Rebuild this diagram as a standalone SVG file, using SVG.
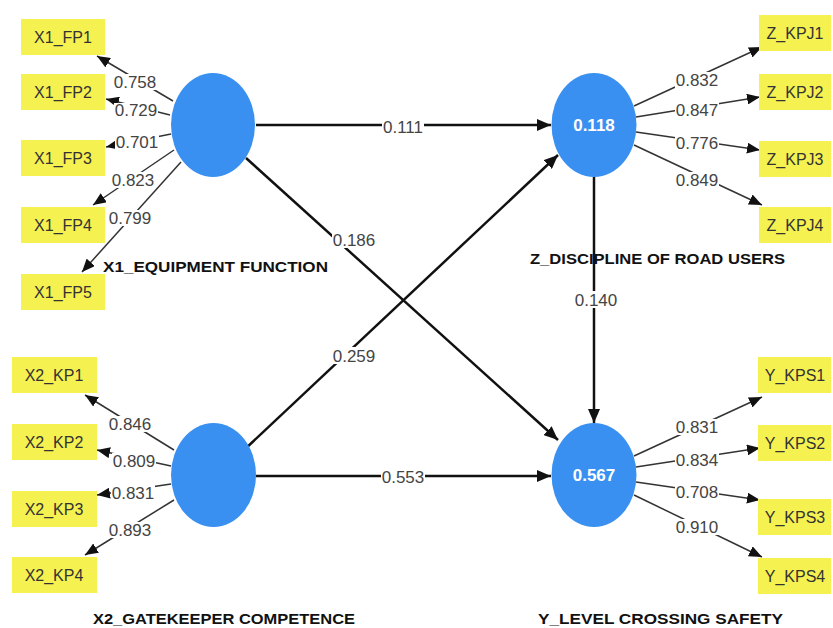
<svg xmlns="http://www.w3.org/2000/svg" width="833" height="628" viewBox="0 0 833 628">
<style>
.box{fill:#f5f150}
.bt{font-family:"Liberation Sans",Arial,sans-serif;font-size:16px;fill:#333;text-anchor:middle}
.lv{fill:#3990f0}
.r2{font-family:"Liberation Sans",Arial,sans-serif;font-size:17px;font-weight:bold;fill:#fff;text-anchor:middle}
.cl{font-family:"Liberation Sans",Arial,sans-serif;font-size:15px;font-weight:bold;fill:#111}
.ld{stroke:#333;stroke-width:1.5;fill:none;marker-end:url(#as)}
.pt{stroke:#111;stroke-width:2.5;fill:none;marker-end:url(#al)}
.bg{fill:#fff}
.lb{font-family:"Liberation Sans",Arial,sans-serif;font-size:17px;fill:#444;text-anchor:middle}
</style>
<defs>
<marker id="al" markerUnits="userSpaceOnUse" markerWidth="14" markerHeight="12" refX="14" refY="6" orient="auto"><path d="M0,0 L14,6 L0,12 z" fill="#111"/></marker>
<marker id="as" markerUnits="userSpaceOnUse" markerWidth="13" markerHeight="11" refX="13" refY="5.5" orient="auto"><path d="M0,0 L13,5.5 L0,11 z" fill="#111"/></marker>
</defs>
<rect width="833" height="628" fill="#fff"/>
<g id="connectors">
<path class="pt" d="M256,125 L551,125"/>
<path class="pt" d="M246,158 L558,440"/>
<path class="pt" d="M244,450 L558,155"/>
<path class="pt" d="M256,476 L551,476"/>
<path class="pt" d="M594,177 L594,423"/>
<path class="ld" d="M173,101 L97,56"/>
<path class="ld" d="M170,115 L106,99"/>
<path class="ld" d="M171,134 L106,147"/>
<path class="ld" d="M174,150 L93,205"/>
<path class="ld" d="M181,162 L82,272"/>
<path class="ld" d="M174,450 L85,395"/>
<path class="ld" d="M171,466 L97,450"/>
<path class="ld" d="M171,484 L97,495"/>
<path class="ld" d="M174,500 L85,555"/>
<path class="ld" d="M634,106 L762,47"/>
<path class="ld" d="M636,117 L760,97"/>
<path class="ld" d="M636,132 L760,150"/>
<path class="ld" d="M634,145 L762,205"/>
<path class="ld" d="M634,456 L762,397"/>
<path class="ld" d="M636,467 L760,448"/>
<path class="ld" d="M636,482 L760,500"/>
<path class="ld" d="M634,495 L762,557"/>
<rect class="bg" x="382" y="118" width="42" height="17"/><text class="lb" x="403" y="133">0.111</text>
<rect class="bg" x="332" y="231" width="44" height="17"/><text class="lb" x="354" y="246">0.186</text>
<rect class="bg" x="332" y="347" width="44" height="17"/><text class="lb" x="354" y="362">0.259</text>
<rect class="bg" x="381" y="468" width="44" height="17"/><text class="lb" x="403" y="483">0.553</text>
<rect class="bg" x="574" y="291" width="44" height="17"/><text class="lb" x="596" y="306">0.140</text>
<rect class="bg" x="113" y="74" width="44" height="16"/><text class="lb" x="135" y="88">0.758</text>
<rect class="bg" x="114" y="103" width="44" height="15"/><text class="lb" x="136" y="116">0.729</text>
<rect class="bg" x="115" y="135" width="44" height="15"/><text class="lb" x="137" y="148">0.701</text>
<rect class="bg" x="111" y="172" width="44" height="16"/><text class="lb" x="133" y="186">0.823</text>
<rect class="bg" x="108" y="210" width="44" height="16"/><text class="lb" x="130" y="224">0.799</text>
<rect class="bg" x="108" y="416" width="44" height="16"/><text class="lb" x="130" y="430">0.846</text>
<rect class="bg" x="112" y="453" width="44" height="16"/><text class="lb" x="134" y="467">0.809</text>
<rect class="bg" x="111" y="485" width="44" height="16"/><text class="lb" x="133" y="499">0.831</text>
<rect class="bg" x="108" y="522" width="44" height="16"/><text class="lb" x="130" y="536">0.893</text>
<rect class="bg" x="675" y="72" width="44" height="16"/><text class="lb" x="697" y="86">0.832</text>
<rect class="bg" x="675" y="102" width="44" height="16"/><text class="lb" x="697" y="116">0.847</text>
<rect class="bg" x="675" y="135" width="44" height="16"/><text class="lb" x="697" y="149">0.776</text>
<rect class="bg" x="675" y="172" width="44" height="16"/><text class="lb" x="697" y="186">0.849</text>
<rect class="bg" x="675" y="419" width="44" height="16"/><text class="lb" x="697" y="433">0.831</text>
<rect class="bg" x="675" y="452" width="44" height="16"/><text class="lb" x="697" y="466">0.834</text>
<rect class="bg" x="675" y="484" width="44" height="16"/><text class="lb" x="697" y="498">0.708</text>
<rect class="bg" x="675" y="519" width="44" height="16"/><text class="lb" x="697" y="533">0.910</text>
</g>
<g id="X1">
<ellipse class="lv" cx="213" cy="125" rx="42" ry="52"/>
<text class="cl" x="103" y="272" textLength="225" lengthAdjust="spacingAndGlyphs">X1_EQUIPMENT FUNCTION</text>
</g>
<g id="X2">
<ellipse class="lv" cx="213.5" cy="475" rx="42.5" ry="52"/>
<text class="cl" x="93" y="624" textLength="262" lengthAdjust="spacingAndGlyphs">X2_GATEKEEPER COMPETENCE</text>
</g>
<g id="Z">
<ellipse class="lv" cx="594" cy="125" rx="42.5" ry="52"/>
<text class="r2" x="594" y="131">0.118</text>
<text class="cl" x="530" y="264" textLength="255" lengthAdjust="spacingAndGlyphs">Z_DISCIPLINE OF ROAD USERS</text>
</g>
<g id="Y">
<ellipse class="lv" cx="594" cy="475" rx="42.5" ry="52"/>
<text class="r2" x="594" y="481">0.567</text>
<text class="cl" x="538" y="624" textLength="245" lengthAdjust="spacingAndGlyphs">Y_LEVEL CROSSING SAFETY</text>
</g>
<g id="X1_FP1"><rect class="box" x="21" y="19" width="84" height="36"/><text class="bt" x="63" y="43">X1_FP1</text></g>
<g id="X1_FP2"><rect class="box" x="21" y="74" width="84" height="36"/><text class="bt" x="63" y="98">X1_FP2</text></g>
<g id="X1_FP3"><rect class="box" x="21" y="140" width="84" height="36"/><text class="bt" x="63" y="164">X1_FP3</text></g>
<g id="X1_FP4"><rect class="box" x="21" y="207" width="84" height="36"/><text class="bt" x="63" y="231">X1_FP4</text></g>
<g id="X1_FP5"><rect class="box" x="21" y="274" width="84" height="36"/><text class="bt" x="63" y="298">X1_FP5</text></g>
<g id="X2_KP1"><rect class="box" x="12" y="357" width="85" height="36"/><text class="bt" x="54" y="381">X2_KP1</text></g>
<g id="X2_KP2"><rect class="box" x="12" y="424" width="85" height="36"/><text class="bt" x="54" y="448">X2_KP2</text></g>
<g id="X2_KP3"><rect class="box" x="12" y="491" width="85" height="36"/><text class="bt" x="54" y="515">X2_KP3</text></g>
<g id="X2_KP4"><rect class="box" x="12" y="557" width="85" height="36"/><text class="bt" x="54" y="581">X2_KP4</text></g>
<g id="Z_KPJ1"><rect class="box" x="759" y="15" width="72" height="36"/><text class="bt" x="795" y="39">Z_KPJ1</text></g>
<g id="Z_KPJ2"><rect class="box" x="759" y="74" width="72" height="36"/><text class="bt" x="795" y="98">Z_KPJ2</text></g>
<g id="Z_KPJ3"><rect class="box" x="759" y="141" width="72" height="36"/><text class="bt" x="795" y="165">Z_KPJ3</text></g>
<g id="Z_KPJ4"><rect class="box" x="759" y="207" width="72" height="36"/><text class="bt" x="795" y="231">Z_KPJ4</text></g>
<g id="Y_KPS1"><rect class="box" x="758" y="357" width="73" height="36"/><text class="bt" x="795" y="381">Y_KPS1</text></g>
<g id="Y_KPS2"><rect class="box" x="758" y="425" width="73" height="36"/><text class="bt" x="795" y="449">Y_KPS2</text></g>
<g id="Y_KPS3"><rect class="box" x="758" y="499" width="73" height="36"/><text class="bt" x="795" y="523">Y_KPS3</text></g>
<g id="Y_KPS4"><rect class="box" x="758" y="558" width="73" height="36"/><text class="bt" x="795" y="582">Y_KPS4</text></g>
</svg>
